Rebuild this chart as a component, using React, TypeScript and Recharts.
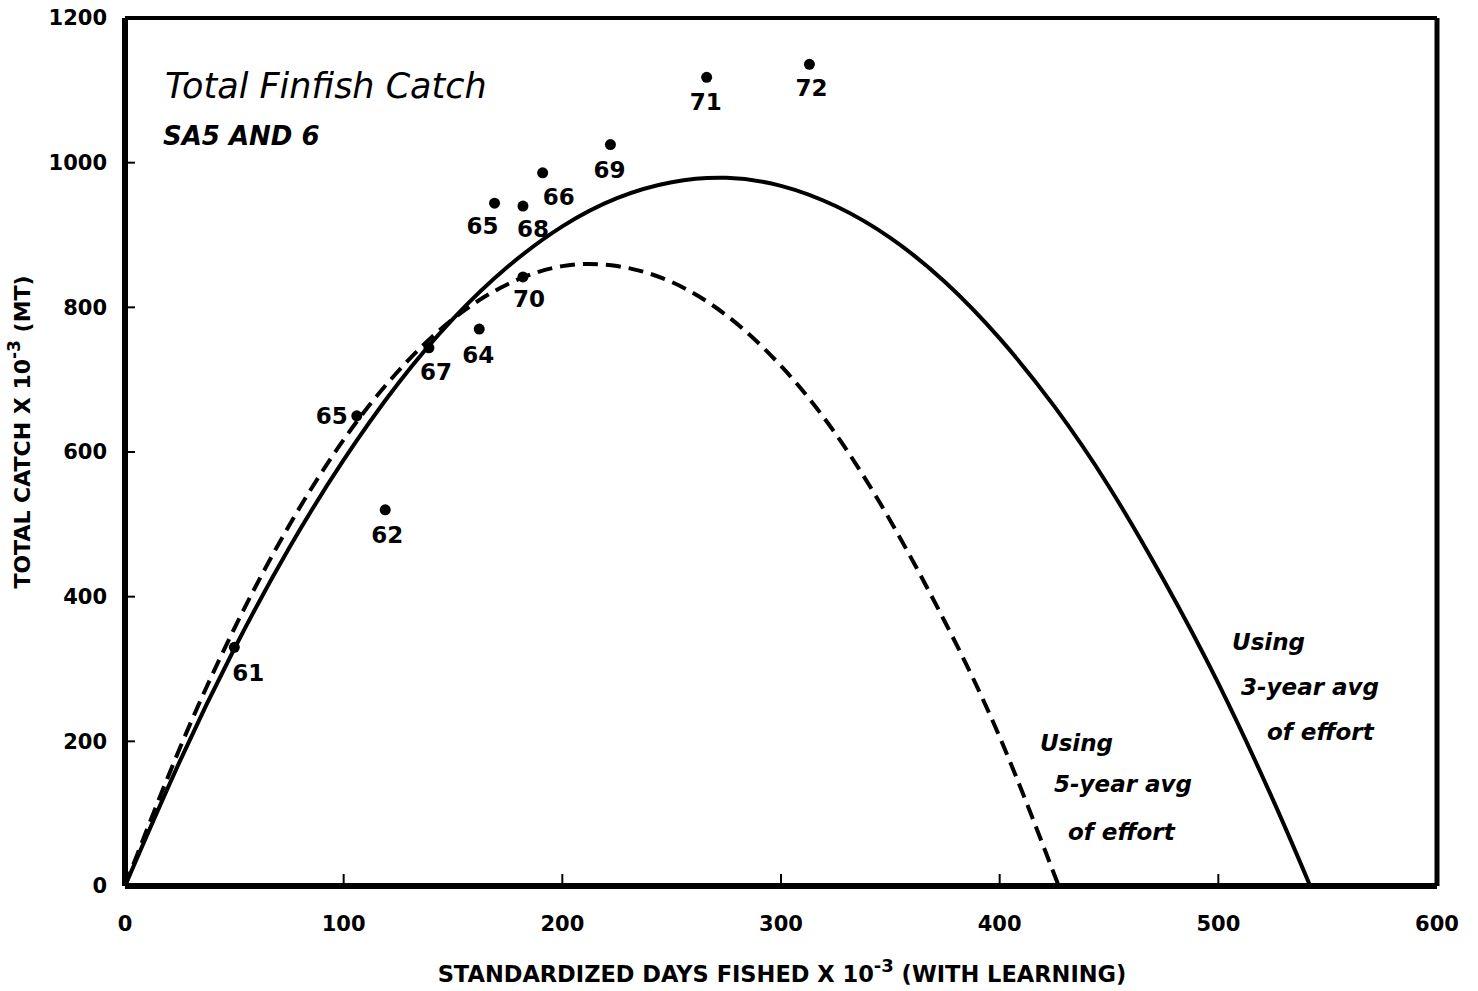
import React from 'react';
import {
  ComposedChart,
  Line,
  Scatter,
  XAxis,
  YAxis,
  ReferenceLine
} from 'recharts';

// observed catch by year (labels are the year, 19xx)
const years = ['61', '62', '65', '67', '64', '65', '68', '66', '69', '70', '71', '72'];
const effort = [50, 119, 106, 139, 162, 169, 182, 191, 222, 182, 266, 313];
const catchMt = [330, 520, 650, 744, 770, 944, 940, 986, 1025, 842, 1118, 1136];

// fitted curve, 3-year avg of effort (solid)
const effort3 = [0, 25, 50, 75, 100, 125, 150, 175, 200, 225, 250, 275, 300, 325, 350, 375, 400, 425, 450, 475, 500, 525, 542];
const catch3 = [0, 172, 328, 467, 589, 695, 784, 856, 912, 951, 973, 979, 968, 940, 896, 835, 757, 663, 552, 423, 280, 119, 0];

// fitted curve, 5-year avg of effort (dashed)
const effort5 = [0, 25, 50, 75, 100, 125, 150, 175, 200, 225, 250, 275, 300, 325, 350, 375, 400, 427];
const catch5 = [0, 190, 356, 498, 617, 712, 784, 832, 857, 857, 835, 789, 719, 625, 505, 365, 206, 0];

const xTicks = [0, 100, 200, 300, 400, 500, 600];
const yTicks = [0, 200, 400, 600, 800, 1000, 1200];

// where each year label sits relative to its dot
const labelOffset: [number, number][] = [
  [14, 34], [2, 33], [-25, 8], [7, 32], [-1, 34], [-12, 31],
  [10, 31], [16, 32], [-1, 33], [6, 30], [-1, 33], [2, 32]
];

const points = years.map((y, i) => ({ x: effort[i], y: catchMt[i], year: y, idx: i }));
const line3 = effort3.map((x, i) => ({ x, y: catch3[i] }));
const line5 = effort5.map((x, i) => ({ x, y: catch5[i] }));

const FONT = '"DejaVu Sans", sans-serif';

const Dot = (props: any) => {
  const { cx, cy, payload } = props;
  const [dx, dy] = labelOffset[payload.idx];
  return (
    <g>
      <circle cx={cx} cy={cy} r={5.5} fill="#000" />
      <text
        x={cx + dx}
        y={cy + dy}
        textAnchor="middle"
        fontFamily={FONT}
        fontWeight={700}
        fontSize={23}
        fill="#000"
      >
        {payload.year}
      </text>
    </g>
  );
};

const tickStyle = { fill: '#000', fontSize: 21, fontWeight: 700, fontFamily: FONT };

export default function App() {
  return (
    <div style={{ position: 'absolute', left: 0, top: 0, width: 1478, height: 991, background: '#fff' }}>
      <ComposedChart
        width={1478}
        height={991}
        margin={{ top: 18, right: 41, bottom: 65, left: 0 }}
      >
        <XAxis
          type="number"
          dataKey="x"
          domain={[0, 600]}
          ticks={xTicks}
          interval={0}
          height={40}
          tickSize={-12}
          tickMargin={42}
          tick={tickStyle}
          tickLine={{ stroke: '#000', strokeWidth: 2 }}
          axisLine={{ stroke: '#000', strokeWidth: 6 }}
        />
        <YAxis
          type="number"
          dataKey="y"
          domain={[0, 1200]}
          ticks={yTicks}
          interval={0}
          width={125}
          tickSize={-10}
          tickMargin={28}
          tick={tickStyle}
          tickLine={{ stroke: '#000', strokeWidth: 2 }}
          axisLine={{ stroke: '#000', strokeWidth: 6 }}
        />
        {/* frame: top and right edges */}
        <ReferenceLine y={1200} stroke="#000" strokeWidth={4} />
        <ReferenceLine x={600} stroke="#000" strokeWidth={5} />
        <Line
          data={line3}
          dataKey="y"
          type="natural"
          stroke="#000"
          strokeWidth={4}
          dot={false}
          activeDot={false}
          isAnimationActive={false}
        />
        <Line
          data={line5}
          dataKey="y"
          type="natural"
          stroke="#000"
          strokeWidth={4}
          strokeDasharray="15 8"
          dot={false}
          activeDot={false}
          isAnimationActive={false}
        />
        <Scatter data={points} dataKey="y" shape={Dot} isAnimationActive={false} />
      </ComposedChart>

      <svg
        width={1478}
        height={991}
        style={{ position: 'absolute', left: 0, top: 0, pointerEvents: 'none' }}
      >
        <text x={165} y={98} fontFamily={FONT} fontStyle="italic" fontSize={35} fill="#000">
          Total Finfish Catch
        </text>
        <text x={163} y={145} fontFamily={FONT} fontStyle="italic" fontWeight={700} fontSize={26} fill="#000">
          SA5 AND 6
        </text>

        <g fontFamily={FONT} fontStyle="italic" fontWeight={700} fontSize={23} fill="#000">
          <text x={1232} y={650}>Using</text>
          <text x={1241} y={695}>3-year avg</text>
          <text x={1267} y={740}>of effort</text>
          <text x={1040} y={751}>Using</text>
          <text x={1054} y={792}>5-year avg</text>
          <text x={1068} y={840}>of effort</text>
        </g>

        <text x={782} y={982} textAnchor="middle" fontFamily={FONT} fontWeight={700} fontSize={22.5} fill="#000">
          STANDARDIZED DAYS FISHED X 10
          <tspan dy={-10} fontSize={18}>-3</tspan>
          <tspan dy={10}> (WITH LEARNING)</tspan>
        </text>
        <text
          transform="translate(30,432) rotate(-90)"
          textAnchor="middle"
          fontFamily={FONT}
          fontWeight={700}
          fontSize={22}
          fill="#000"
        >
          TOTAL CATCH X 10
          <tspan dy={-10} fontSize={17}>-3</tspan>
          <tspan dy={10}> (MT)</tspan>
        </text>
      </svg>
    </div>
  );
}
